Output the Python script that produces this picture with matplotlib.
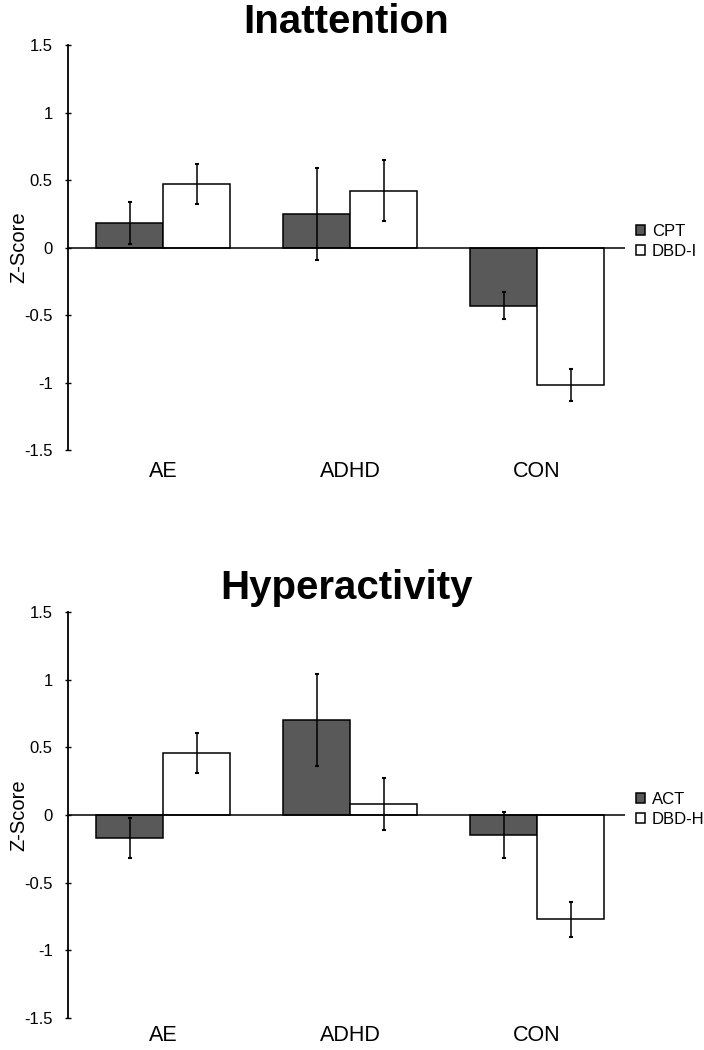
import numpy as np
import matplotlib
matplotlib.use("Agg")
import matplotlib.pyplot as plt

plt.rcParams['font.family'] = ['Liberation Sans', 'DejaVu Sans']

groups = ["AE", "ADHD", "CON"]

# Inattention panel
inatt_labels = ["CPT", "DBD-I"]
inatt_cpt = [0.18, 0.25, -0.43]
inatt_cpt_err = [0.155, 0.34, 0.10]
inatt_dbd = [0.47, 0.42, -1.02]
inatt_dbd_err = [0.15, 0.225, 0.12]

# Hyperactivity panel
hyper_labels = ["ACT", "DBD-H"]
hyper_act = [-0.17, 0.70, -0.145]
hyper_act_err = [0.15, 0.34, 0.17]
hyper_dbd = [0.46, 0.08, -0.77]
hyper_dbd_err = [0.148, 0.19, 0.13]

dark = "#595959"
width = 0.358


def draw_panel(ax, title, labels, s1, e1, s2, e2, legend_y, xpad):
    x = np.arange(len(groups))
    ax.bar(x - width / 2, s1, width, color=dark, edgecolor="black",
           linewidth=1.1, label=labels[0], zorder=2)
    ax.bar(x + width / 2, s2, width, color="white", edgecolor="black",
           linewidth=1.1, label=labels[1], zorder=2)
    ax.errorbar(x - width / 2, s1, yerr=e1, fmt="none", ecolor="black",
                elinewidth=1.1, capsize=1.2, capthick=1.5, zorder=3)
    ax.errorbar(x + width / 2, s2, yerr=e2, fmt="none", ecolor="black",
                elinewidth=1.1, capsize=1.2, capthick=1.5, zorder=3)
    ax.axhline(0, color="black", linewidth=1.1, zorder=4)

    ax.set_xlim(-0.508, 2.47)
    ax.set_ylim(-1.5, 1.5)
    ax.set_yticks([-1.5, -1, -0.5, 0, 0.5, 1, 1.5])
    ax.set_yticklabels(["-1.5", "-1", "-0.5", "0", "0.5", "1", "1.5"])
    ax.set_xticks(x)
    ax.set_xticklabels(groups, fontsize=15.5)
    ax.tick_params(axis="x", length=0, pad=xpad)
    ax.tick_params(axis="y", direction="inout", length=4, width=1,
                   labelsize=12, pad=9)
    for s in ["top", "right", "bottom"]:
        ax.spines[s].set_visible(False)
    ax.spines["left"].set_linewidth(1.3)
    ax.set_ylabel("Z-Score", fontsize=14.5)
    ax.yaxis.set_label_coords(-0.0718, 0.5)
    ax.set_title(title, fontsize=29, fontweight="bold", pad=9)
    ax.legend(loc="center left", bbox_to_anchor=(1.02, legend_y),
              frameon=False, fontsize=12, handlelength=0.55,
              handleheight=0.55, handletextpad=0.4, labelspacing=0.3,
              borderpad=0, borderaxespad=0)


fig = plt.figure(figsize=(7.04, 10.5), dpi=100)
ax1 = fig.add_axes([0.0966, 0.5714, 0.7912, 0.3857])
ax2 = fig.add_axes([0.0966, 0.0305, 0.7912, 0.3867])

draw_panel(ax1, "Inattention", inatt_labels, inatt_cpt, inatt_cpt_err,
           inatt_dbd, inatt_dbd_err, 0.516, 8)
draw_panel(ax2, "Hyperactivity", hyper_labels, hyper_act, hyper_act_err,
           hyper_dbd, hyper_dbd_err, 0.514, 5)

fig.savefig("out.png", dpi=100)
